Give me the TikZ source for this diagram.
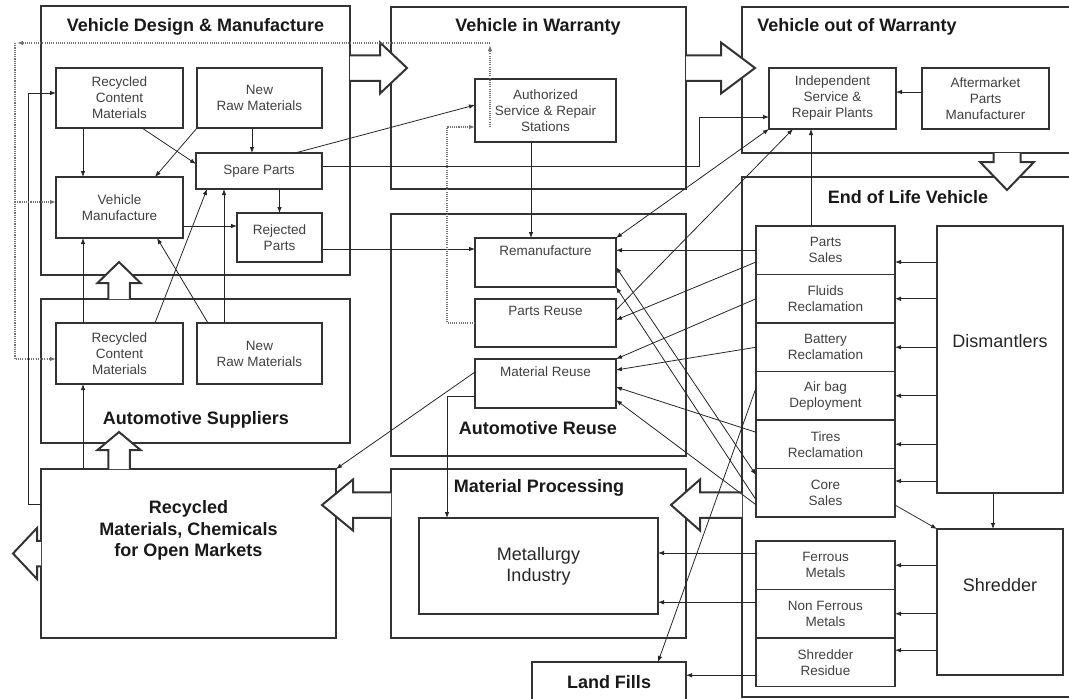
\documentclass[tikz,border=0pt]{standalone}
\usepackage{fontspec}
\setmainfont{Liberation Sans}
\usetikzlibrary{arrows.meta,positioning}

\begin{document}
\begin{tikzpicture}[x=1pt,y=-1pt,>={Latex[length=6pt,width=4.5pt]},
  bigbox/.style={draw=black!80,line width=2.4pt,inner sep=0pt,outer sep=0pt},
  inbox/.style={draw=black!80,line width=1.3pt,inner sep=0pt,outer sep=0pt,align=center,
    font=\fontsize{13.5}{16}\selectfont,text=black!75},
  inlab/.style={anchor=north,yshift=-4pt,font=\fontsize{13.5}{16}\selectfont,text=black!75},
  ttl/.style={font=\fontsize{18}{21.5}\selectfont\bfseries,text=black!90,align=center},
  bigtxt/.style={font=\fontsize{18}{21}\selectfont,text=black!85,align=center},
  conn/.style={draw=black!85,line width=0.8pt},
  dotline/.style={draw=black!55,line width=1.1pt,dash pattern=on 1.1pt off 1.1pt,->},
  fatarrow/.style={draw=black!80,line width=2pt,fill=white,line join=miter},
  pics/blkarrow/.style n args={3}{code={
    \draw[fatarrow] (0,-#3/2) -- (#1,-#3/2) -- (#1,-#3) -- (#1+#2,0) -- (#1,#3) -- (#1,#3/2) -- (0,#3/2);
  }}]
  \useasboundingbox (0,0) rectangle (1069,699);

  % stage boxes
  \node[bigbox,minimum width=309,minimum height=269] (vdm) at (195.5,140.5) {};
  \node[bigbox,minimum width=295,minimum height=182] (viw) at (538.5,98) {};
  \node[bigbox,minimum width=338,minimum height=146] (vow) at (911,80) {};
  \node[bigbox,minimum width=338,minimum height=520] (elv) at (911,437) {};
  \node[bigbox,minimum width=309,minimum height=144] (asp) at (195.5,371) {};
  \node[bigbox,minimum width=295,minimum height=242] (aru) at (538.5,335) {};
  \node[bigbox,minimum width=295,minimum height=169] (mpr) at (538.5,553.5) {};
  \node[bigbox,minimum width=295,minimum height=169] (rmBox) at (188.5,553.5) {};
  \node[bigbox,ttl,minimum width=154,minimum height=40] (lfBox) at (609,682) {Land Fills};

  \node[ttl] (tVdm) at (195.5,27) {Vehicle Design \& Manufacture};
  \node[ttl] (tViw) at (538,27) {Vehicle in Warranty};
  \node[ttl] (tVow) at (857,27) {Vehicle out of Warranty};
  \node[ttl] (tElv) at (908,197) {End of Life Vehicle};
  \node[ttl] (tAsp) at (196,420) {Automotive Suppliers};
  \node[ttl] (tAru) at (538,428) {Automotive Reuse};
  \node[ttl] (tMpr) at (539,488) {Material Processing};
  \node[ttl] (tRm) at (188.5,530.5) {Recycled\\Materials, Chemicals\\for Open Markets};

  % inner boxes
  \node[inbox,minimum width=127,minimum height=60] (dmRcm) at (119.5,98) {Recycled\\Content\\Materials};
  \node[inbox,minimum width=125,minimum height=60] (dmNrm) at (259.5,98) {New\\Raw Materials};
  \node[inbox,minimum width=126,minimum height=36] (dmSpare) at (259,171) {Spare Parts};
  \node[inbox,minimum width=127,minimum height=61] (dmVm) at (119.5,207.5) {Vehicle\\Manufacture};
  \node[inbox,minimum width=85,minimum height=49] (dmRej) at (279.5,237.5) {Rejected\\Parts};
  \node[inbox,minimum width=127,minimum height=61] (asRcm) at (119.5,353.5) {Recycled\\Content\\Materials};
  \node[inbox,minimum width=125,minimum height=61] (asNrm) at (259.5,353.5) {New\\Raw Materials};
  \node[inbox,minimum width=141,minimum height=63] (awAuth) at (545.5,110.5) {Authorized\\Service \& Repair\\Stations};
  \node[inbox,minimum width=127,minimum height=61] (owInd) at (832.5,98.5) {Independent\\Service \&\\Repair Plants};
  \node[inbox,minimum width=127,minimum height=61] (owAft) at (985.5,98.5) {Aftermarket\\Parts\\Manufacturer};
  \node[inbox,minimum width=141,minimum height=49,label={[inlab]north:Remanufacture}] (reMan) at (545.5,262.5) {};
  \node[inbox,minimum width=141,minimum height=48,label={[inlab]north:Parts Reuse}] (rePart) at (545.5,323) {};
  \node[inbox,minimum width=141,minimum height=49,label={[inlab]north:Material Reuse}] (reMat) at (545.5,383.5) {};
  \node[inbox,bigtxt,minimum width=239,minimum height=96] (mpMet) at (538.5,566) {Metallurgy\\Industry};

  \node[inbox,minimum width=139,minimum height=48.5] (elPs) at (825.5,250.25) {Parts\\Sales};
  \node[inbox,minimum width=139,minimum height=48.5,below=0pt of elPs] (elFl) {Fluids\\Reclamation};
  \node[inbox,minimum width=139,minimum height=48.5,below=0pt of elFl] (elBa) {Battery\\Reclamation};
  \node[inbox,minimum width=139,minimum height=48.5,below=0pt of elBa] (elAb) {Air bag\\Deployment};
  \node[inbox,minimum width=139,minimum height=48.5,below=0pt of elAb] (elTi) {Tires\\Reclamation};
  \node[inbox,minimum width=139,minimum height=48.5,below=0pt of elTi] (elCs) {Core\\Sales};
  \node[inbox,minimum width=139,minimum height=48.5] (elFe) at (825.5,565.25) {Ferrous\\Metals};
  \node[inbox,minimum width=139,minimum height=48.5,below=0pt of elFe] (elNf) {Non Ferrous\\Metals};
  \node[inbox,minimum width=139,minimum height=48.5,below=0pt of elNf] (elSr) {Shredder\\Residue};
  \node[inbox,minimum width=126,minimum height=267,label={[bigtxt,yshift=18pt]center:Dismantlers}] (elDis) at (1000,359.5) {};
  \node[inbox,minimum width=126,minimum height=146,label={[bigtxt,yshift=17pt]center:Shredder}] (elShr) at (1000,602) {};

  % flow arrows between stages
  \pic at ([yshift=72.5]vdm.east) {blkarrow={30}{27}{25.5}};
  \pic at ([yshift=30]viw.east) {blkarrow={35}{34}{25.5}};
  \pic[rotate=-90] at ([xshift=96]vow.south) {blkarrow={9}{28}{27}};
  \pic[rotate=90] at ([xshift=-76.5]asp.north) {blkarrow={16}{21}{21.5}};
  \pic[rotate=90] at ([xshift=-69.5]rmBox.north) {blkarrow={19}{18}{21.5}};
  \pic[rotate=180] at (rmBox.west) {blkarrow={4}{24}{25.5}};
  \pic[rotate=180] at ([yshift=48.5]mpr.west) {blkarrow={38}{31}{25.5}};
  \pic[rotate=180] at ([yshift=-68]elv.west) {blkarrow={42}{29}{25.5}};

  % design & manufacture
  \draw[conn,->] ([xshift=-36.5]dmRcm.south) -- ([xshift=-36.5]dmVm.north);
  \draw[conn,->] ([xshift=22.5]dmRcm.south) -- ([yshift=7]dmSpare.west);
  \draw[conn,->] (dmNrm.south west) -- ([xshift=35.5]dmVm.north);
  \draw[conn,->] ([xshift=-7.5]dmNrm.south) -- ([xshift=-7]dmSpare.north);
  \draw[conn,->] ([xshift=20.5]dmSpare.south) -- (dmRej.north);
  \path ([yshift=-18.5]dmVm.east) coordinate (vmOut);
  \draw[conn,->] (vmOut) -- (vmOut -| dmRej.west);
  \draw[conn,->] ([xshift=-36.5]asRcm.north) -- ([xshift=-36.5]dmVm.south);
  \draw[conn,->] ([xshift=35.5]asRcm.north) -- ([xshift=-52]dmSpare.south);
  \draw[conn,->] ([xshift=-51.5]asNrm.north) -- ([xshift=37.5]dmVm.south);
  \draw[conn,->] ([xshift=-35.5]asNrm.north) -- ([xshift=-35]dmSpare.south);
  \draw[conn,->] ([xshift=-105.5]rmBox.north) -- ([xshift=-36.5]asRcm.south);
  \draw[conn,->] ([yshift=49.5]rmBox.west) -- ++(-13,0) |- ([yshift=5]dmRcm.west);

  % warranty and reuse
  \draw[conn,->] ([xshift=36]dmSpare.north) -- ([yshift=5.5]awAuth.west);
  \draw[conn,->] ([xshift=-14.5]awAuth.south) -- ([xshift=-14.5]reMan.north);
  \draw[conn,->] ([yshift=5]dmSpare.east) -- ++(377,0) |- ([yshift=-18.5]owInd.west);
  \draw[conn,->] ([yshift=6.5]owAft.west) -- ([yshift=6.5]owInd.east);
  \path ([yshift=-11.5]dmRej.east) coordinate (rejOut);
  \draw[conn,->] (rejOut) -- (rejOut -| reMan.west);
  \draw[conn,->] ([yshift=11.5]reMat.west) -- (rmBox.north east);
  \draw[conn,->] ([yshift=-12.5]reMat.west) -| ([xshift=-91.5]mpMet.north);
  \draw[conn,<->] (owInd.south west) -- (reMan.north east);
  \draw[conn,->] ([yshift=13]rePart.east) -- ([xshift=-39.5]owInd.south);
  \path ([xshift=-14.5]elPs.north) coordinate (psUp);
  \draw[conn,->] (psUp) -- (psUp |- owInd.south);

  % dotted returns
  \coordinate (dotTop) at (490,43);
  \coordinate (dotLeft) at (15,43);
  \draw[dotline] (rePart.west) -- ++(-28,0) |- ([yshift=-16.5]awAuth.west);
  \draw[dotline] ([xshift=-55.5,yshift=-16.5]awAuth.center) -- ([yshift=-2]dotTop);
  \draw[dotline] (dotTop) -- ([xshift=2]dotLeft);
  \path ([yshift=5.5]dmVm.west) coordinate (vmIn);
  \draw[dotline] (dotLeft |- vmIn) -- (vmIn);
  \draw[dotline] (dotLeft) |- ([yshift=-5.5]asRcm.west);

  % end of life to reuse
  \draw[conn,->] (elPs.west) -- (elPs.west -| reMan.east);
  \draw[conn,->] ([yshift=-11.75]elPs.west) -- ([yshift=3]rePart.east);
  \draw[conn,->] (elFl.west) -- (reMat.north east);
  \draw[conn,->] (elBa.west) -- ([yshift=13.5]reMat.east);
  \draw[conn,->] ([yshift=12]elTi.west) -- ([yshift=-3.5]reMat.east);
  \draw[conn,->] ([yshift=-12]elCs.west) -- ([yshift=-16.5]reMat.east);
  \draw[conn,<->] ([yshift=-4.5]reMan.east) -- ([yshift=17.75]elCs.west);
  \draw[conn,->] ([yshift=-7]elCs.west) -- (reMan.south east);
  \draw[conn,->] ([yshift=7.75]elAb.west) -- ([xshift=49]lfBox.north);

  % dismantlers and shredder
  \foreach \n/\dy in {elPs/-11.75,elFl/0,elBa/0,elAb/0,elTi/0,elCs/11.75}{
    \path ([yshift=\dy]\n.east) coordinate (dIn);
    \draw[conn,->] (dIn -| elDis.west) -- (dIn);
  }
  \draw[conn,->] ([xshift=-7]elDis.south) -- ([xshift=-7]elShr.north);
  \draw[conn,->] ([yshift=-12.25]elCs.east) -- (elShr.north west);
  \foreach \n/\dy in {elFe/0,elNf/0,elSr/12}{
    \path ([yshift=\dy]\n.east) coordinate (sIn);
    \draw[conn,->] (sIn -| elShr.west) -- (sIn);
  }
  \path ([yshift=12.25]elFe.west) coordinate (feOut);
  \draw[conn,->] (feOut) -- (feOut -| mpMet.east);
  \path ([yshift=11.5]elNf.west) coordinate (nfOut);
  \draw[conn,->] (nfOut) -- (nfOut -| mpMet.east);
  \path ([yshift=-13]elSr.west) coordinate (srOut);
  \draw[conn,->] (srOut) -- (srOut -| lfBox.east);
\end{tikzpicture}
\end{document}
